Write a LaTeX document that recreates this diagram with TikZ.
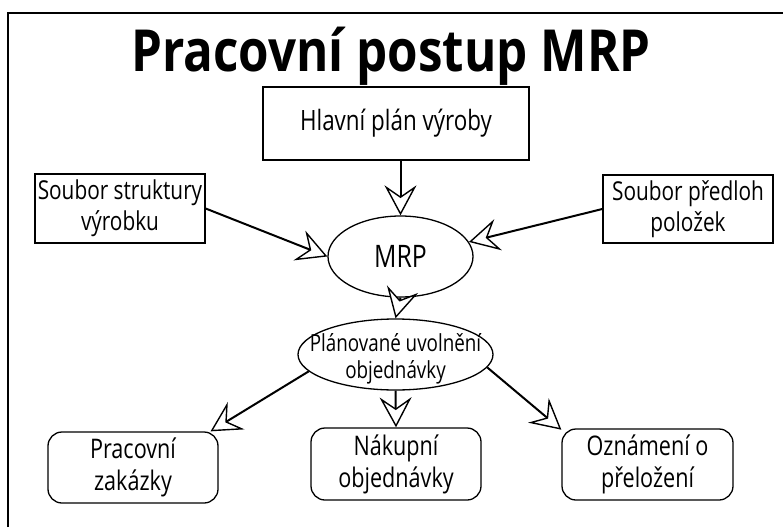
\documentclass[tikz,border=0pt]{standalone}
\usepackage{fontspec}
\setmainfont{Open Sans}[FakeStretch=0.8]
\newfontfamily\titlefont{Open Sans}[FakeStretch=0.85]
\usetikzlibrary{arrows.meta,shapes.geometric}
\begin{document}
\begin{tikzpicture}[x=1pt,y=-1pt,
  box/.style={draw,line width=1.3pt,rectangle,inner sep=0pt,align=center,font=\fontsize{26}{31}\selectfont},
  rbox/.style={box,rounded corners=14pt},
  ell/.style={draw,line width=1.3pt,ellipse,inner sep=0pt},
  conn/.style={line width=2pt,-{Stealth[open,fill=white,length=30pt,width=32pt,inset=11pt,line width=1.4pt]}}]
\useasboundingbox (0,0) rectangle (783,527);
\draw[line width=1.3pt] (8,527) -- (8,13) -- (783,13);
\node[anchor=base,font=\titlefont\bfseries\fontsize{58}{60}\selectfont] (title) at (391,71) {Pracovní postup MRP};
\node[box,minimum width=266pt,minimum height=73pt,font=\fontsize{28}{31}\selectfont] (hlavni) at (396,123.5) {Hlavní plán výroby};
\node[box,minimum width=170pt,minimum height=69pt] (struct) at (120,208.5) {Soubor struktury\\výrobku};
\node[box,minimum width=170pt,minimum height=68pt] (pred) at (688,209) {Soubor předloh\\položek};
\node[ell,minimum width=145pt,minimum height=81pt,font=\fontsize{31}{32}\selectfont] (mrp) at (400.5,256.5) {MRP};
\node[ell,minimum width=195pt,minimum height=71pt,
  label={[align=center,yshift=-4pt,font=\fontsize{23.5}{27}\selectfont]center:Plánované uvolnění\\objednávky}] (plan) at (395.5,354.5) {};
\node[rbox,minimum width=170pt,minimum height=71pt,font=\fontsize{27}{32}\selectfont] (prac) at (133,467.5) {Pracovní\\zakázky};
\node[rbox,minimum width=170pt,minimum height=72pt,font=\fontsize{27}{32}\selectfont] (nak) at (396,464) {Nákupní\\objednávky};
\node[rbox,minimum width=171pt,minimum height=71pt,font=\fontsize{27}{32}\selectfont] (ozn) at (647.5,464.5) {Oznámení o\\přeložení};
\draw[conn] (hlavni.south -| mrp.north) -- (mrp.north);
\draw[conn] (struct.east) -- (mrp.west);
\draw[conn] (pred.west) -- (mrp.12);
\draw[conn] (mrp.south) -- (plan.north);
\draw[conn] (plan.191) -- (prac.25);
\draw[conn] (plan.south) -- (nak.north);
\draw[conn] (plan.-8) -- (ozn.158);
\end{tikzpicture}
\end{document}
